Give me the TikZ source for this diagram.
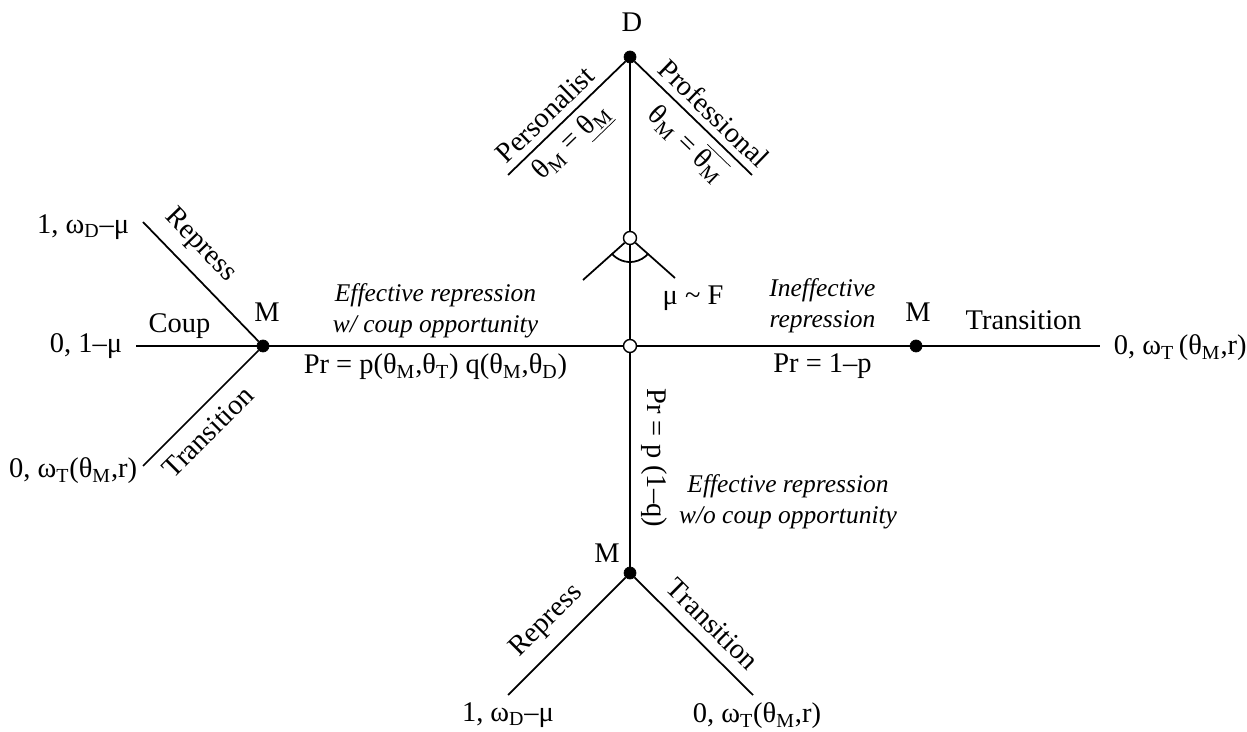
\documentclass[tikz,border=0pt]{standalone}
\usepackage{fontspec}
\setmainfont{Liberation Serif}
\usetikzlibrary{positioning}
\newcommand{\lo}[1]{\textsubscript{#1}}

\begin{document}
\begin{tikzpicture}[x=0.02cm, y=-0.02cm,
  every node/.style={font=\fontsize{16.2}{19}\selectfont, inner sep=2pt},
  ital/.style={font=\fontsize{14.5}{17.5}\selectfont\itshape, align=center},
  lab/.style={inner sep=4pt},
  slab/.style={sloped, inner sep=4pt},
  blab/.style={sloped, inner sep=6.5pt},
  dot/.style={circle, draw, fill=black, minimum size=0.24cm, inner sep=0pt},
  chance/.style={circle, draw, fill=white, line width=0.8pt, minimum size=0.26cm, inner sep=0pt},
  edge/.style={line width=1pt},
]
  \useasboundingbox (0,0) rectangle (1247,732);

  \node[dot]    (D)  at (630,57)  {};
  \node[chance] (U)  at (630,238) {};
  \node[chance] (C)  at (630,346) {};
  \node[dot]    (ML) at (263,346) {};
  \node[dot]    (MR) at (916,346) {};
  \node[dot]    (MB) at (630,573) {};

  \node (Dl)  at (632,22)  {D};
  \node (MLl) at (267,312) {M};
  \node (MRl) at (918,312) {M};
  \node (MBl) at (607,553) {M};

  \coordinate (pers)  at (508,175);
  \coordinate (prof)  at (752,175);
  \coordinate (wl)    at (583,280);
  \coordinate (wr)    at (675,278);
  \coordinate (lrep)  at (143,222);
  \coordinate (lcoup) at (136,346);
  \coordinate (ltr)   at (143,466);
  \coordinate (rtr)   at (1100,346);
  \coordinate (brep)  at (508,695);
  \coordinate (btr)   at (753,695);

  \node[anchor=east] (lrepPay)  at (133,227)  {1, ω\lo{D}–μ};
  \node[anchor=east] (lcoupPay) at (126,346)  {0, 1–μ};
  \node[anchor=east] (ltrPay)   at (141,471)  {0, ω\lo{T}(θ\lo{M},r)};
  \node[anchor=west] (rtrPay)   at (1110,348) {0, ω\lo{T}\,(θ\lo{M},r)};
  \node (brepPay) at (508,715) {1, ω\lo{D}–μ};
  \node (btrPay)  at (757,716) {0, ω\lo{T}(θ\lo{M},r)};

  \node[ital] (wocoup) at (788,502) {Effective repression\\w/o coup opportunity};
  \node (muF) at (693,298) {μ \textasciitilde{} F};

  \draw[edge] (D) -- node[slab, above, pos=0.58] {Personalist}
                     node[slab, below, pos=0.58] {θ\lo{M} = \underline{θ\lo{M}}} (pers);
  \draw[edge] (D) -- node[slab, above, pos=0.57] {Professional}
                     node[slab, below, pos=0.58] {θ\lo{M} = $\overline{\hbox{θ\lo{M}}}$} (prof);
  \draw[edge] (D) -- (U);
  \draw[edge] (U) -- (wl);
  \draw[edge] (U) -- (wr);
  \draw[edge] ([shift={(140:24)}]U.center) arc[start angle=140, end angle=40, radius=24];
  \draw[edge] (U) -- (C);

  \draw[edge] (C) -- node[ital, lab, above, pos=0.53] {Effective repression\\w/ coup opportunity}
                     node[lab, below, pos=0.53] {Pr = p(θ\lo{M},θ\lo{T}) q(θ\lo{M},θ\lo{D})} (ML);
  \draw[edge] (C) -- node[ital, lab, above, pos=0.68, yshift=3pt] {Ineffective\\repression}
                     node[lab, below, pos=0.68] {Pr = 1–p} (MR);
  \draw[edge] (C) -- node[pos=0.49, rotate=-90, anchor=south, inner sep=6pt] {Pr = p (1–q)} (MB);

  \draw[edge] (ML) -- node[blab, above, pos=0.66] {Repress} (lrep);
  \draw[edge] (ML) -- node[slab, above, pos=0.64] {Coup} (lcoup);
  \draw[edge] (ML) -- node[blab, below, pos=0.57] {Transition} (ltr);

  \draw[edge] (MR) -- node[above, inner sep=9pt, pos=0.57] {Transition} (rtr);

  \draw[edge] (MB) -- node[blab, above, pos=0.52] {Repress} (brep);
  \draw[edge] (MB) -- node[blab, above, pos=0.53] {Transition} (btr);
\end{tikzpicture}
\end{document}
